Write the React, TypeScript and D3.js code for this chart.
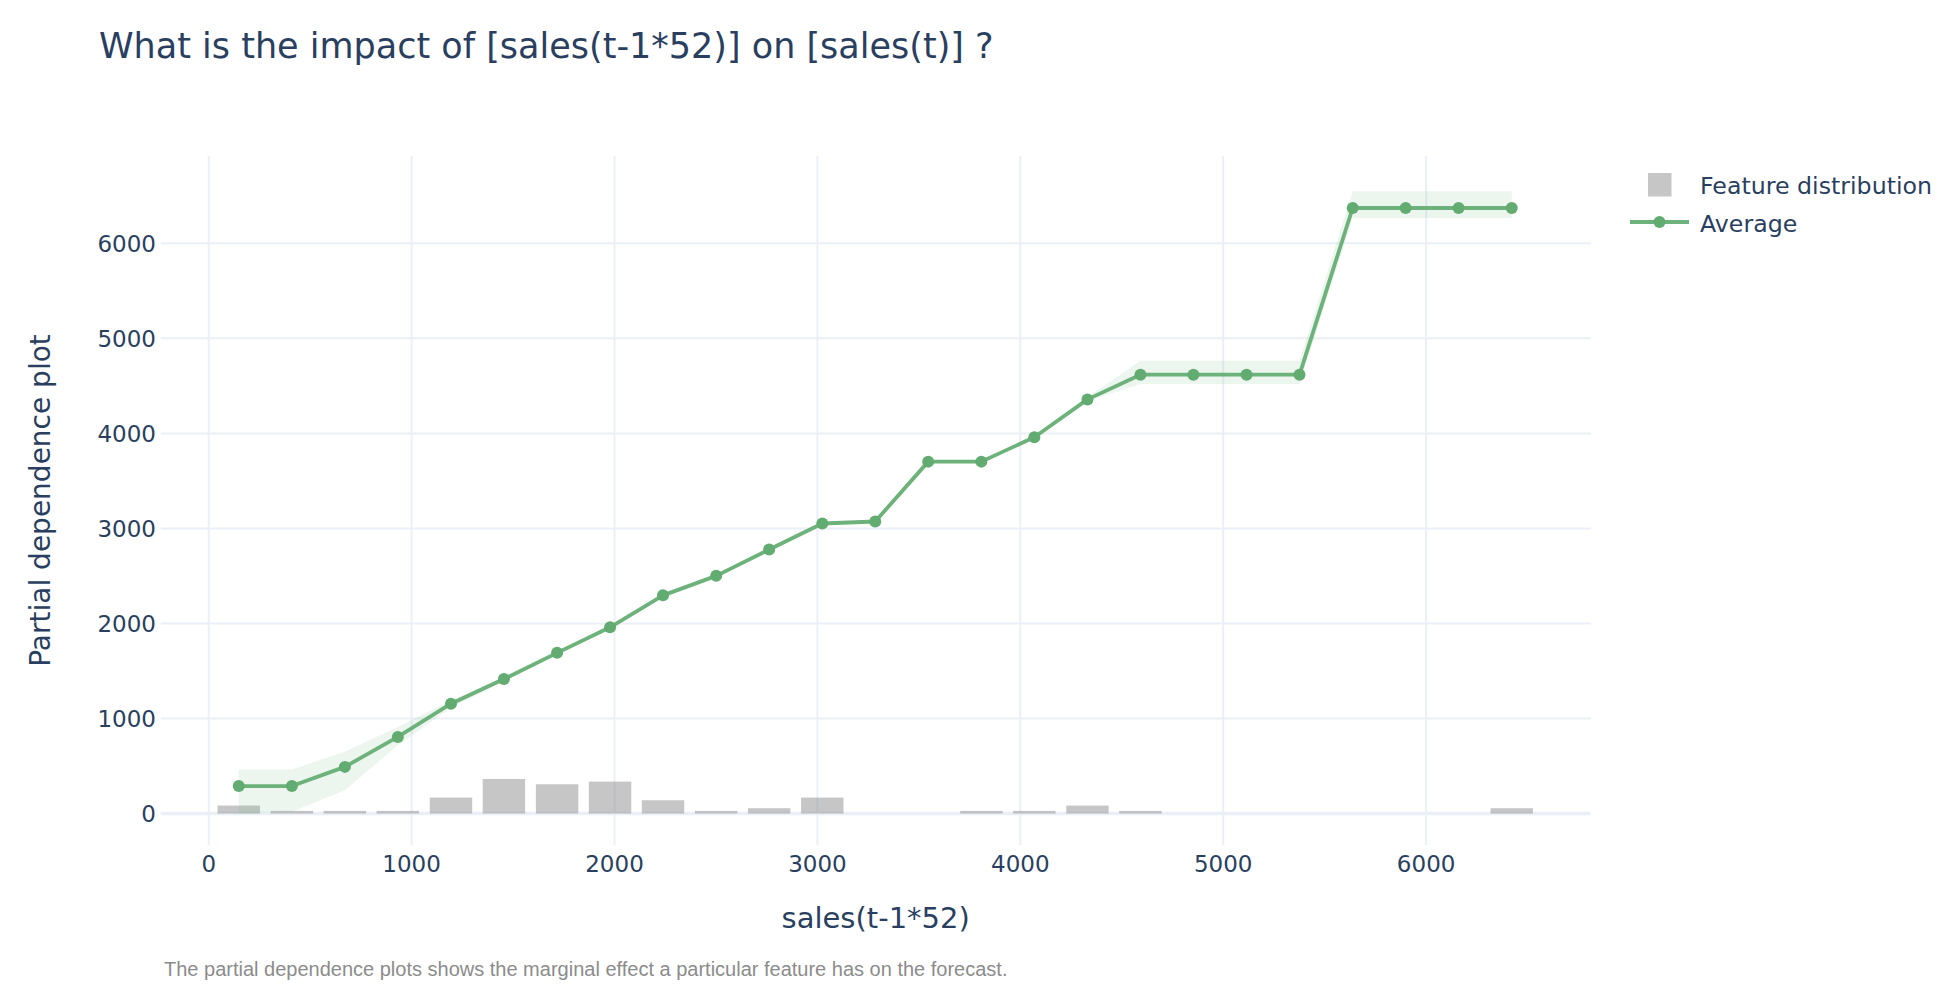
import React from "react";
import * as d3 from "d3";

// bin centres of sales(t-1*52)
const binCenters = [
  148, 410, 671, 932, 1194, 1455, 1717, 1978, 2239, 2501, 2762, 3024, 3285,
  3546, 3808, 4069, 4331, 4592, 4853, 5115, 5376, 5638, 5899, 6160, 6422,
];
// partial dependence, average and its band
const average = [
  289, 289, 491, 806, 1156, 1415, 1691, 1960, 2296, 2501, 2779, 3052, 3073,
  3703, 3703, 3960, 4358, 4618, 4618, 4618, 4618, 6372, 6372, 6372, 6372,
];
const upper = [
  464, 464, 649, 911, 1191, 1440, 1710, 1975, 2310, 2515, 2795, 3065, 3085,
  3715, 3715, 3975, 4380, 4765, 4765, 4765, 4765, 6547, 6547, 6547, 6547,
];
const lower = [
  0, 20, 246, 719, 1114, 1390, 1670, 1945, 2285, 2490, 2765, 3040, 3060,
  3690, 3690, 3945, 4340, 4519, 4519, 4519, 4519, 6267, 6267, 6267, 6267,
];
// feature distribution (scaled histogram heights)
const distribution = [
  84, 28, 28, 28, 168, 364, 308, 336, 140, 28, 56, 168, 0, 0, 28, 28, 84, 28,
  0, 0, 0, 0, 0, 0, 56,
];
const xTicks = [0, 1000, 2000, 3000, 4000, 5000, 6000];
const yTicks = [0, 1000, 2000, 3000, 4000, 5000, 6000];

const title = "What is the impact of [sales(t-1*52)] on [sales(t)] ?";
const xTitle = "sales(t-1*52)";
const yTitle = "Partial dependence plot";
const footnote =
  "The partial dependence plots shows the marginal effect a particular feature has on the forecast.";

const W = 1946;
const H = 1006;
const textColor = "#2a3f5f";
const gridColor = "#ebf0f8";
const green = "#6cb27a";
const font = "'DejaVu Sans', Verdana, sans-serif";

export default function App() {
  const left = 160.7,
    right = 1590.7,
    top = 156,
    bottom = 845;
  const x = d3.scaleLinear().domain([-236.6, 6811]).range([left, right]);
  const y = d3.scaleLinear().domain([-331, 6919]).range([bottom, top]);
  const barW = x(209) - x(0);

  const idx = d3.range(binCenters.length);
  const band = d3
    .area<number>()
    .x((i) => x(binCenters[i]))
    .y0((i) => y(lower[i]))
    .y1((i) => y(upper[i]))(idx);
  const line = d3
    .line<number>()
    .x((i) => x(binCenters[i]))
    .y((i) => y(average[i]))(idx);

  return (
    <div style={{ position: "absolute", left: 0, top: 0, background: "#fff" }}>
      <svg width={W} height={H} style={{ display: "block" }} fontFamily={font}>
        <rect width={W} height={H} fill="#fff" />
        <text x={99} y={58} fontSize={35} fill={textColor}>
          {title}
        </text>

        {/* grid */}
        {xTicks.map((t) => (
          <line key={"gx" + t} x1={x(t)} x2={x(t)} y1={top} y2={bottom} stroke={gridColor} strokeWidth={2} />
        ))}
        {yTicks
          .filter((t) => t !== 0)
          .map((t) => (
            <line key={"gy" + t} x1={left} x2={right} y1={y(t)} y2={y(t)} stroke={gridColor} strokeWidth={2} />
          ))}
        <line x1={left} x2={right} y1={y(0)} y2={y(0)} stroke={gridColor} strokeWidth={3.5} />

        {/* distribution bars */}
        {distribution.map((v, i) =>
          v > 0 ? (
            <rect
              key={"b" + i}
              x={x(binCenters[i]) - barW / 2}
              y={y(v)}
              width={barW}
              height={y(0) - y(v)}
              fill="rgb(128,128,128)"
              fillOpacity={0.45}
            />
          ) : null
        )}

        {/* band, line, markers */}
        <path d={band ?? ""} fill="rgba(108,178,122,0.13)" />
        <path d={line ?? ""} fill="none" stroke={green} strokeWidth={3.8} strokeLinejoin="round" />
        {idx.map((i) => (
          <circle key={"m" + i} cx={x(binCenters[i])} cy={y(average[i])} r={6} fill="#62ab71" />
        ))}

        {/* tick labels */}
        {xTicks.map((t) => (
          <text key={"xt" + t} x={x(t)} y={871.5} fontSize={23} fill={textColor} textAnchor="middle">
            {t}
          </text>
        ))}
        {yTicks.map((t) => (
          <text key={"yt" + t} x={156} y={y(t)} dy="0.36em" fontSize={23} fill={textColor} textAnchor="end">
            {t}
          </text>
        ))}

        {/* axis titles */}
        <text x={(left + right) / 2} y={928} fontSize={29} fill={textColor} textAnchor="middle">
          {xTitle}
        </text>
        <text
          transform={`translate(50,${(top + bottom) / 2}) rotate(-90)`}
          fontSize={28}
          fill={textColor}
          textAnchor="middle"
        >
          {yTitle}
        </text>

        {/* legend */}
        <rect x={1648} y={173} width={23.5} height={23.5} fill="rgb(128,128,128)" fillOpacity={0.45} />
        <text x={1700} y={194} fontSize={23.7} fill={textColor}>
          Feature distribution
        </text>
        <line x1={1630} x2={1689} y1={222} y2={222} stroke={green} strokeWidth={3.8} />
        <circle cx={1659.5} cy={222} r={6} fill="#62ab71" />
        <text x={1700} y={231.5} fontSize={23.7} fill={textColor}>
          Average
        </text>

        <text x={164} y={976} fontSize={20} fill="#8c8c8c" fontFamily="'Liberation Sans', Arial, sans-serif">
          {footnote}
        </text>
      </svg>
    </div>
  );
}
